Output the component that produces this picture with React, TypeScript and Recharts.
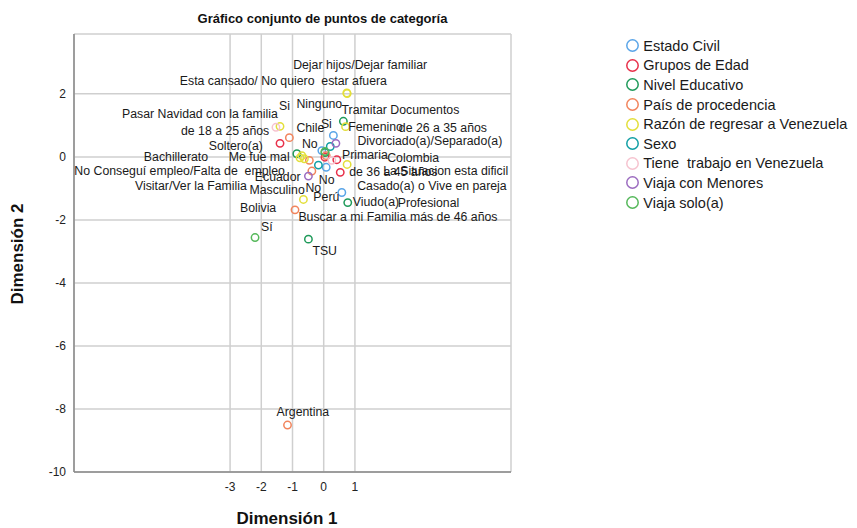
import React from 'react'
import { ScatterChart, Scatter, XAxis, YAxis, CartesianGrid } from 'recharts'

interface Punto {
  name: string
  x: number
  y: number
}

// valores (dimensión 1, dimensión 2)
const estadoCivil: Punto[] = [
  { name: 'Soltero(a)', x: -0.06, y: 0.2 },
  { name: 'Divorciado(a)/Separado(a)', x: 0.31, y: 0.68 },
  { name: 'Casado(a) o Vive en pareja', x: 0.08, y: -0.33 },
  { name: 'Viudo(a)', x: 0.58, y: -1.13 },
]

const gruposEdad: Punto[] = [
  { name: 'de 18 a 25 años', x: -1.4, y: 0.43 },
  { name: 'de 26 a 35 años', x: 0.42, y: -0.09 },
  { name: 'de 36 a 45 años', x: 0.53, y: -0.49 },
  { name: 'más de 46 años', x: 0.04, y: -0.01 },
]

const nivelEducativo: Punto[] = [
  { name: 'Ninguno', x: 0.63, y: 1.13 },
  { name: 'Bachillerato', x: -0.86, y: 0.1 },
  { name: 'Primaria', x: 0.04, y: 0.14 },
  { name: 'TSU', x: -0.49, y: -2.61 },
  { name: 'Profesional', x: 0.77, y: -1.45 },
]

const paisProcedencia: Punto[] = [
  { name: 'Chile', x: -1.1, y: 0.61 },
  { name: 'Colombia', x: 0.08, y: 0.04 },
  { name: 'Ecuador', x: -0.38, y: -0.45 },
  { name: 'Perú', x: -0.46, y: -0.11 },
  { name: 'Bolivia', x: -0.92, y: -1.68 },
  { name: 'Argentina', x: -1.16, y: -8.51 },
]

const razonRegreso: Punto[] = [
  { name: 'Dejar hijos/Dejar familiar', x: 0.75, y: 2.01 },
  { name: 'Esta cansado/ No quiero  estar afuera', x: 0.74, y: 2.03 },
  { name: 'Tramitar Documentos', x: 0.7, y: 0.96 },
  { name: 'Pasar Navidad con la familia', x: -1.4, y: 0.97 },
  { name: 'Me fue mal', x: -0.7, y: 0.04 },
  { name: 'No Conseguí empleo/Falta de  empleo', x: -0.62, y: -0.06 },
  { name: 'Visitar/Ver la Familia', x: -0.76, y: -0.03 },
  { name: 'La Situacion esta dificil', x: 0.75, y: -0.24 },
  { name: 'Buscar a mi Familia', x: -0.65, y: -1.35 },
]

const sexo: Punto[] = [
  { name: 'Femenino', x: 0.21, y: 0.33 },
  { name: 'Masculino', x: -0.17, y: -0.26 },
]

const tieneTrabajo: Punto[] = [
  { name: 'Si', x: -1.53, y: 0.94 },
  { name: 'No', x: 0.26, y: -0.11 },
]

const viajaMenores: Punto[] = [
  { name: 'Si', x: 0.39, y: 0.43 },
  { name: 'No', x: -0.49, y: -0.61 },
]

const viajaSolo: Punto[] = [
  { name: 'Sí', x: -2.2, y: -2.56 },
  { name: 'No', x: 0.04, y: 0.17 },
]

const xTicks = [-3, -2, -1, 0, 1]
const yTicks = [2, 0, -2, -4, -6, -8, -10]

const series = [
  { id: 'ec', label: 'Estado Civil', color: '#5aa5e8', data: estadoCivil },
  { id: 'ge', label: 'Grupos de Edad', color: '#e8304a', data: gruposEdad },
  { id: 'ne', label: 'Nivel Educativo', color: '#1f9a5a', data: nivelEducativo },
  { id: 'pp', label: 'País de procedencia', color: '#f2845c', data: paisProcedencia },
  { id: 'rr', label: 'Razón de regresar a Venezuela', color: '#e3df3a', data: razonRegreso },
  { id: 'sx', label: 'Sexo', color: '#119fa5', data: sexo },
  { id: 'tt', label: 'Tiene  trabajo en Venezuela', color: '#f6c3cf', data: tieneTrabajo },
  { id: 'vm', label: 'Viaja con Menores', color: '#9c6cc0', data: viajaMenores },
  { id: 'vs', label: 'Viaja solo(a)', color: '#55b85a', data: viajaSolo },
]

// desplazamiento de cada etiqueta respecto a su punto (px)
const labelOffsets: Record<string, [number, number]> = {
  'ec:Soltero(a)': [-113, -5],
  'ec:Divorciado(a)/Separado(a)': [24, 6],
  'ec:Casado(a) o Vive en pareja': [31, 19],
  'ec:Viudo(a)': [11, 10],
  'ge:de 18 a 25 años': [-99, -12],
  'ge:de 26 a 35 años': [62, -32],
  'ge:de 36 a 45 años': [9, 0],
  'ge:más de 46 años': [85, 60],
  'ne:Ninguno': [-47, -17],
  'ne:Bachillerato': [-153, 3],
  'ne:Primaria': [17, 3],
  'ne:TSU': [4, 12],
  'ne:Profesional': [50, 0],
  'pp:Chile': [7, -10],
  'pp:Colombia': [61, 2],
  'pp:Ecuador': [-57, 6],
  'pp:Perú': [4, 37],
  'pp:Bolivia': [-55, -2],
  'pp:Argentina': [-11, -13],
  'rr:Dejar hijos/Dejar familiar': [-54, -29],
  'rr:Esta cansado/ No quiero  estar afuera': [-167, -12],
  'rr:Tramitar Documentos': [-4, -17],
  'rr:Pasar Navidad con la familia': [-158, -12],
  'rr:Me fue mal': [-73, 1],
  'rr:No Conseguí empleo/Falta de  empleo': [-230, 12],
  'rr:Visitar/Ver la Familia': [-165, 28],
  'rr:La Situacion esta dificil': [36, 7],
  'rr:Buscar a mi Familia': [-5, 18],
  'sx:Femenino': [18, -19],
  'sx:Masculino': [-69, 25],
  'tt:Si': [3, -21],
  'tt:No': [-13, 20],
  'vm:Si': [-15, -19],
  'vm:No': [-3, 12],
  'vs:Sí': [6, -11],
  'vs:No': [-23, -8],
}

const allPoints = series.flatMap((s) => s.data.map((d) => ({ ...d, key: `${s.id}:${d.name}` })))

const font = '"Liberation Sans", Arial, sans-serif'

const makeCircle = (color: string) => (props: any) => (
  <circle cx={props.cx} cy={props.cy} r={3.7} fill="none" stroke={color} strokeWidth={1.5} />
)

const LabelShape = (props: any) => {
  const off = labelOffsets[props.payload.key] || [6, -8]
  return (
    <text
      x={props.cx + off[0]}
      y={props.cy + off[1]}
      fontSize={12.3}
      fill="#1a1a1a"
      dominantBaseline="central"
      style={{ whiteSpace: 'pre' }}
    >
      {props.payload.name}
    </text>
  )
}

export default function App() {
  return (
    <div style={{ position: 'relative', width: 841, height: 520, fontFamily: font }}>
      <div
        style={{
          position: 'absolute', left: 314.5, top: 4, transform: 'translateX(-50%)',
          fontSize: 13, fontWeight: 'bold', lineHeight: '14px', whiteSpace: 'nowrap', color: '#111',
        }}
      >
        Gráfico conjunto de puntos de categoría
      </div>
      <ScatterChart width={841} height={520} margin={{ top: 26, right: 338, bottom: 26, left: 0 }}>
        <CartesianGrid stroke="#cfcfcf" strokeWidth={1.5} />
        <XAxis
          type="number"
          dataKey="x"
          domain={[-8, 6]}
          ticks={xTicks}
          allowDataOverflow
          height={30}
          tickSize={0}
          tickMargin={10}
          tick={{ fontSize: 12, fill: '#222' }}
          axisLine={{ stroke: '#888', strokeWidth: 1.5 }}
        />
        <YAxis
          type="number"
          dataKey="y"
          domain={[-10, 3.9]}
          ticks={yTicks}
          allowDataOverflow
          width={66}
          tickSize={0}
          tickMargin={8}
          tick={{ fontSize: 12, fill: '#222' }}
          axisLine={{ stroke: '#888', strokeWidth: 1.5 }}
        />
        {series.map((s) => (
          <Scatter key={s.id} data={s.data} shape={makeCircle(s.color)} isAnimationActive={false} />
        ))}
        <Scatter data={allPoints} shape={LabelShape} isAnimationActive={false} />
      </ScatterChart>
      <div
        style={{
          position: 'absolute', left: 279, top: 502, transform: 'translateX(-50%)',
          fontSize: 17, fontWeight: 'bold', lineHeight: '18px', whiteSpace: 'nowrap', color: '#111',
        }}
      >
        Dimensión 1
      </div>
      <div
        style={{
          position: 'absolute', left: 10, top: 246, transform: 'translate(-50%, -50%) rotate(-90deg)',
          fontSize: 17, fontWeight: 'bold', lineHeight: '18px', whiteSpace: 'nowrap', color: '#111',
        }}
      >
        Dimensión 2
      </div>
      <div style={{ position: 'absolute', left: 617, top: 28 }}>
        {series.map((s) => (
          <div key={s.id} style={{ display: 'flex', alignItems: 'center', height: 19.6 }}>
            <svg width={15} height={15}>
              <circle cx={7.5} cy={7.5} r={5.7} fill="none" stroke={s.color} strokeWidth={1.5} />
            </svg>
            <span style={{ marginLeft: 3.3, fontSize: 14.5, color: '#1a1a1a', whiteSpace: 'pre', lineHeight: '18px' }}>
              {s.label}
            </span>
          </div>
        ))}
      </div>
    </div>
  )
}
